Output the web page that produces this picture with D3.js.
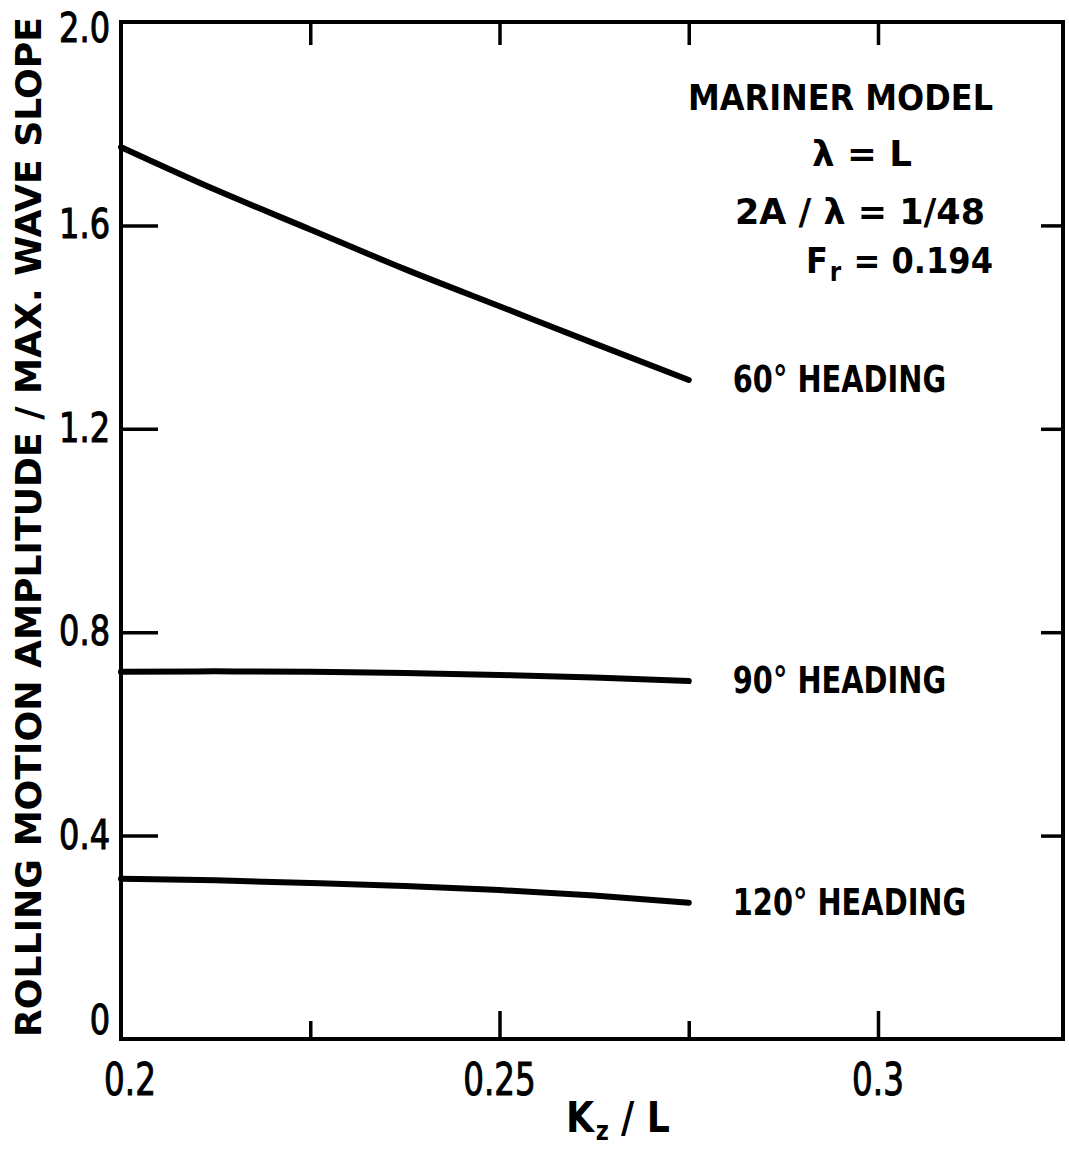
<!DOCTYPE html>
<html>
<head>
<meta charset="utf-8">
<script src="https://cdn.jsdelivr.net/npm/d3@7"></script>
<style>
  html, body { margin: 0; padding: 0; background: #fff; }
  svg { display: block; }
  text { font-family: "DejaVu Sans", sans-serif; fill: #000; }
  .num { stroke: #000; stroke-width: 1.1px; }
</style>
</head>
<body>
<svg id="chart" width="1069" height="1149"></svg>
<script>
// Radius of gyration ratio K_z / L at which roll amplitude is plotted
const kzOverL = [0.2, 0.2125, 0.225, 0.2375, 0.25, 0.2625, 0.275];

// Rolling motion amplitude / max. wave slope, one array per heading
const roll60  = [1.754, 1.670, 1.592, 1.514, 1.441, 1.368, 1.296];
const roll90  = [0.722, 0.723, 0.722, 0.720, 0.716, 0.711, 0.704];
const roll120 = [0.315, 0.312, 0.307, 0.301, 0.293, 0.282, 0.268];

const headingLabels = ["60° HEADING", "90° HEADING", "120° HEADING"];

const yTickValues = [0, 0.4, 0.8, 1.2, 1.6, 2.0];
const yTickLabels = ["0", "0.4", "0.8", "1.2", "1.6", "2.0"];
const xMajorTicks = [0.2, 0.25, 0.3];
const xTickLabels = ["0.2", "0.25", "0.3"];
const xMinorTicks = [0.225, 0.275];

const noteLines = ["MARINER MODEL", "λ = L", "2A / λ = 1/48"];
const froudeValue = "0.194";

// ---- layout ----
const svg = d3.select("#chart");
const frame = { left: 121, right: 1063, top: 22, bottom: 1039 };

const x = d3.scaleLinear().domain([0.2, 0.3]).range([frame.left, 878]);
const y = d3.scaleLinear().domain([0, 2.0]).range([frame.bottom, frame.top]);

// squeeze a text element horizontally to mimic the narrow stencil lettering
function squeeze(sel, factor) {
  sel.each(function () {
    const w = this.getComputedTextLength();
    d3.select(this)
      .attr("textLength", w * factor)
      .attr("lengthAdjust", "spacingAndGlyphs");
  });
  return sel;
}

// text with a lowered subscript, scaled to span [x0, x1]
function subscriptLabel(x0, x1, base, main, sub, rest, size, subSize) {
  const t = svg.append("text")
    .attr("font-size", size)
    .attr("font-weight", "bold");
  t.append("tspan").text(main);
  t.append("tspan").attr("font-size", subSize).attr("dx", 2).attr("dy", 8).text(sub);
  t.append("tspan").attr("dx", 14).attr("dy", -8).text(rest);
  const w = t.node().getComputedTextLength() + 16;
  t.attr("transform", `translate(${x0},${base}) scale(${(x1 - x0) / w},1)`);
  return t;
}

// ---- tick marks (all pointing into the plot) ----
function styleAxis(g) {
  g.select(".domain").remove();
  g.selectAll(".tick line").attr("stroke", "#000").attr("stroke-width", 3.5);
  g.selectAll(".tick text").remove();
}

svg.append("g")
  .attr("transform", `translate(${frame.left},0)`)
  .call(d3.axisLeft(y).tickValues(yTickValues.slice(1, -1)).tickSize(-37))
  .call(styleAxis);

svg.append("g")
  .attr("transform", `translate(${frame.right},0)`)
  .call(d3.axisRight(y).tickValues(yTickValues.slice(1, -1)).tickSize(-22))
  .call(styleAxis);

svg.append("g")
  .attr("transform", `translate(0,${frame.top})`)
  .call(d3.axisTop(x).tickValues([...xMinorTicks, ...xMajorTicks.slice(1)]).tickSize(-23))
  .call(styleAxis);

svg.append("g")
  .attr("transform", `translate(0,${frame.bottom})`)
  .call(d3.axisBottom(x).tickValues(xMajorTicks.slice(1)).tickSize(-28))
  .call(styleAxis);

svg.append("g")
  .attr("transform", `translate(0,${frame.bottom})`)
  .call(d3.axisBottom(x).tickValues(xMinorTicks).tickSize(-18))
  .call(styleAxis);

// ---- frame ----
svg.append("rect")
  .attr("x", frame.left).attr("y", frame.top)
  .attr("width", frame.right - frame.left)
  .attr("height", frame.bottom - frame.top)
  .attr("fill", "none").attr("stroke", "#000").attr("stroke-width", 4);

// ---- tick labels ----
svg.append("g").selectAll("text")
  .data(yTickValues)
  .join("text")
  .attr("class", "num")
  .attr("x", 110)
  .attr("y", v => Math.min(Math.max(y(v) + 13, 42), 1034))
  .attr("text-anchor", "end")
  .attr("font-size", 40)
  .text((v, i) => yTickLabels[i])
  .call(squeeze, 0.8);

svg.append("g").selectAll("text")
  .data(xMajorTicks)
  .join("text")
  .attr("class", "num")
  .attr("x", v => Math.max(x(v), 130))
  .attr("y", 1095)
  .attr("text-anchor", "middle")
  .attr("font-size", 44)
  .text((v, i) => xTickLabels[i])
  .call(squeeze, 0.74);

// ---- axis titles ----
svg.append("text")
  .attr("transform", "translate(41,527) rotate(-90)")
  .attr("text-anchor", "middle")
  .attr("font-size", 36)
  .attr("font-weight", "bold")
  .text("ROLLING MOTION AMPLITUDE / MAX. WAVE SLOPE")
  .attr("textLength", 1020)
  .attr("lengthAdjust", "spacingAndGlyphs");

subscriptLabel(566, 670, 1132, "K", "z", "/ L", 42, 26);

// ---- curves ----
const line = d3.line()
  .x(d => x(d[0]))
  .y(d => y(d[1]))
  .curve(d3.curveMonotoneX);

const series = [roll60, roll90, roll120];

svg.append("g").selectAll("path")
  .data(series)
  .join("path")
  .attr("d", s => line(kzOverL.map((k, i) => [k, s[i]])))
  .attr("fill", "none")
  .attr("stroke", "#000")
  .attr("stroke-width", 6)
  .attr("stroke-linecap", "round")
  .attr("stroke-linejoin", "round");

// heading labels beside the right end of each curve
svg.append("g").selectAll("text")
  .data(series)
  .join("text")
  .attr("x", x(kzOverL[kzOverL.length - 1]) + 44)
  .attr("y", s => y(s[s.length - 1]) + 12)
  .attr("font-size", 37)
  .attr("font-weight", "bold")
  .text((s, i) => headingLabels[i])
  .call(squeeze, 0.78);

// ---- model / wave conditions note ----
const notePos = [
  { x: 688, y: 110, w: 305 },
  { x: 812, y: 166, w: 100 },
  { x: 735, y: 224, w: 250 }
];
svg.append("g").selectAll("text")
  .data(noteLines)
  .join("text")
  .attr("x", (d, i) => notePos[i].x)
  .attr("y", (d, i) => notePos[i].y)
  .attr("font-size", 36)
  .attr("font-weight", "bold")
  .text(d => d)
  .attr("textLength", (d, i) => notePos[i].w)
  .attr("lengthAdjust", "spacingAndGlyphs");

// Froude number line
subscriptLabel(806, 993, 273, "F", "r", "= " + froudeValue, 36, 26);
</script>
</body>
</html>
